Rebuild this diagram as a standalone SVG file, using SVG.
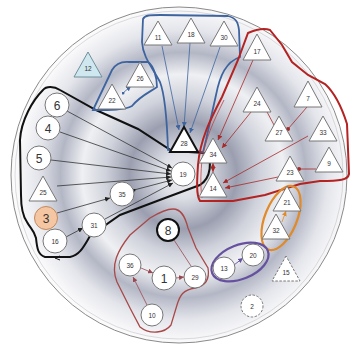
<svg xmlns="http://www.w3.org/2000/svg" width="353" height="349" viewBox="0 0 353 349">
<defs>
<radialGradient id="bg" cx="183" cy="175" r="168" gradientUnits="userSpaceOnUse">
<stop offset="0" stop-color="#f3f3f6"/>
<stop offset="0.14" stop-color="#dcdee5"/>
<stop offset="0.32" stop-color="#9a9eaf"/>
<stop offset="0.46" stop-color="#cfd2db"/>
<stop offset="0.6" stop-color="#eff0f3"/>
<stop offset="0.73" stop-color="#b3b7c5"/>
<stop offset="0.86" stop-color="#e4e5eb"/>
<stop offset="1" stop-color="#fbfbfc"/>
</radialGradient>
<marker id="aK" viewBox="0 0 6 6" refX="6" refY="3" markerWidth="5" markerHeight="5" markerUnits="userSpaceOnUse" orient="auto"><path d="M0,0 L6,3 L0,6 Z" fill="#222"/></marker>
<marker id="aB" viewBox="0 0 6 6" refX="6" refY="3" markerWidth="5" markerHeight="5" markerUnits="userSpaceOnUse" orient="auto"><path d="M0,0 L6,3 L0,6 Z" fill="#3e64a0"/></marker>
<marker id="aR" viewBox="0 0 6 6" refX="6" refY="3" markerWidth="5" markerHeight="5" markerUnits="userSpaceOnUse" orient="auto"><path d="M0,0 L6,3 L0,6 Z" fill="#a82828"/></marker>
<marker id="aM" viewBox="0 0 6 6" refX="6" refY="3" markerWidth="5" markerHeight="5" markerUnits="userSpaceOnUse" orient="auto"><path d="M0,0 L6,3 L0,6 Z" fill="#9a4850"/></marker>
<marker id="aO" viewBox="0 0 6 6" refX="6" refY="3" markerWidth="5" markerHeight="5" markerUnits="userSpaceOnUse" orient="auto"><path d="M0,0 L6,3 L0,6 Z" fill="#e08a2a"/></marker>
<marker id="aP" viewBox="0 0 6 6" refX="6" refY="3" markerWidth="5" markerHeight="5" markerUnits="userSpaceOnUse" orient="auto"><path d="M0,0 L6,3 L0,6 Z" fill="#6650a0"/></marker>
<marker id="dK" viewBox="0 0 4 4" refX="2" refY="2" markerWidth="3" markerHeight="3" markerUnits="userSpaceOnUse"><circle cx="2" cy="2" r="2" fill="#222"/></marker>
<marker id="dR" viewBox="0 0 4 4" refX="2" refY="2" markerWidth="4" markerHeight="4" markerUnits="userSpaceOnUse"><circle cx="2" cy="2" r="2" fill="#a82828"/></marker>
<marker id="dB" viewBox="0 0 4 4" refX="2" refY="2" markerWidth="3" markerHeight="3" markerUnits="userSpaceOnUse"><circle cx="2" cy="2" r="2" fill="#3e64a0"/></marker>
</defs>
<style>
.nd{fill:#fff;stroke:#777;stroke-width:1}
.t{font-family:"Liberation Sans",Arial,sans-serif;fill:#333;text-anchor:middle}
.s{font-size:6.5px}
.b{font-size:12px}
.ck{stroke:#333;stroke-width:0.8;fill:none}
.cb{stroke:#3e64a0;stroke-width:0.8;fill:none}
.cr{stroke:#a82828;stroke-width:0.8;fill:none}
.cm{stroke:#9a4850;stroke-width:0.8;fill:none}
.reg{fill:none}
</style>
<g id="background">
<circle cx="179" cy="175" r="168" fill="url(#bg)" stroke="#8a8a8a" stroke-width="1"/>
<circle cx="179" cy="175" r="164" fill="none" stroke="#c4c4c8" stroke-width="0.6"/>
</g>
<g id="regions">
<path class="reg" stroke="#111" stroke-width="2" d="M43,90 C46,86 54,86 60,90 L96,110 L138,129 L172,151 L205,153 C213,160 211,178 200,185 L165,198 L120,215 L90,236 C84,246 80,255 70,257 L45,257 C38,255 37,248 36,238 C34,230 30,228 27,222 C22,215 21,205 21,195 L20,140 C21,120 33,100 43,90 Z"/>
<path d="M60,256 L55,258 L60,260" fill="none" stroke="#111" stroke-width="1"/>
<path class="reg" stroke="#3e64a0" stroke-width="1.8" d="M93,110 L112,70 C116,63 122,61 130,62 L148,62 C154,66 157,78 157,87 C150,92 140,96 132,106 C125,110 110,110 93,110 Z"/>
<path class="reg" stroke="#3e64a0" stroke-width="1.8" d="M168,150 C167,120 165,95 160,82 C153,68 143,58 142,42 L143,19 C145,15 150,15 160,15 L228,16 C236,18 238,22 239,30 L240,57 C226,62 220,75 216,95 L206,140 L203,152 Z"/>
<path class="reg" stroke="#b42222" stroke-width="2" d="M248,33 C255,30 264,28 270,30 L282,45 L292,62 L308,75 L325,84 C336,94 342,108 347,124 L349,174 C348,180 340,181 320,181 L300,184 L265,195 L233,201 L200,201 C196,195 197,180 198,165 C200,140 210,120 222,97 L238,60 Z"/>
<path class="reg" stroke="#c04040" stroke-width="0.8" d="M202,198 C200,185 201,170 202,160 C205,140 213,122 224,100"/>
<ellipse cx="281" cy="218" rx="16" ry="34" transform="rotate(22 281 218)" fill="none" stroke="#e08a2a" stroke-width="2.2"/>
<ellipse cx="240" cy="262" rx="30" ry="17" transform="rotate(-22 240 262)" fill="none" stroke="#6650a0" stroke-width="2.2"/>
<path class="reg" stroke="#a84848" stroke-width="1.3" d="M173,209 C181,209 185,216 188,228 L196,248 L208,268 C210,280 205,286 195,288 C183,290 180,295 177,305 L171,325 C165,333 150,335 140,327 L130,308 L117,282 C110,265 118,250 130,235 L150,218 C160,212 167,209 173,209 Z"/>
</g>
<g id="connectors">
<path class="ck" d="M67,111 L172,168" marker-end="url(#aK)"/>
<path class="ck" d="M60,132 L171,171" marker-end="url(#aK)"/>
<path class="ck" d="M51,160 L171,174" marker-end="url(#aK)"/>
<path class="ck" d="M57,186 L171,177" marker-end="url(#aK)"/>
<path class="ck" d="M134,190 L172,180" marker-start="url(#dK)" marker-end="url(#aK)"/>
<path class="ck" d="M105,219 L173,183" marker-end="url(#aK)"/>
<path class="ck" d="M57,213 L110,198" marker-end="url(#aK)"/>
<path class="ck" d="M66,237 L83,228" marker-end="url(#aK)"/>
<path class="cb" d="M162,46 L179,130" marker-end="url(#aB)"/>
<path class="cb" d="M190,43 L184,127" marker-end="url(#aB)"/>
<path class="cb" d="M220,47 L190,133" marker-end="url(#aB)"/>
<path class="cb" d="M123,93 L131,86" marker-start="url(#dB)" marker-end="url(#aB)"/>
<path class="cr" d="M253,60 L218,140" marker-end="url(#aR)"/>
<path class="cr" d="M251,112 L222,148" marker-end="url(#aR)"/>
<path class="cr" d="M266,110 L274,125" marker-start="url(#dR)"/>
<path class="cr" d="M307,107 L288,129" marker-end="url(#dR)"/>
<path class="cr" d="M308,136 L223,183" marker-end="url(#aR)"/>
<path class="cr" d="M278,177 L225,188" marker-end="url(#aR)"/>
<path class="cr" d="M316,169 L299,169" marker-end="url(#dR)"/>
<path class="cr" d="M213,166 L213,172" marker-end="url(#aR)"/>
<path class="cr" d="M213,169 L213,163" marker-end="url(#aR)"/>
<path d="M282,222 L286,211" stroke="#e08a2a" stroke-width="0.8" fill="none" marker-end="url(#aO)"/>
<path d="M234,265 L243,258" stroke="#6650a0" stroke-width="0.9" fill="none" marker-end="url(#aP)"/>
<path class="cm" d="M141,268 L153,273" marker-end="url(#aM)"/>
<path class="cm" d="M147,305 L133,277" marker-end="url(#aM)"/>
<path class="cm" d="M174,240 L191,266"/>
<path class="cm" d="M176,278 L184,277" marker-end="url(#aM)"/>
</g>
<g id="n12"><polygon points="88,52 74,77 102,77" fill="#cfe7ef" stroke="#6f8f9a"/><text class="t s" x="88" y="71">12</text></g>
<g id="n26"><polygon class="nd" points="140,62 126,87 154,87"/><text class="t s" x="140" y="81">26</text></g>
<g id="n22"><polygon class="nd" points="112,84 98,109 126,109"/><text class="t s" x="112" y="103">22</text></g>
<g id="n11"><polygon class="nd" points="158,21 144,45 172,45"/><text class="t s" x="158" y="40">11</text></g>
<g id="n18"><polygon class="nd" points="191,18 177,43 205,43"/><text class="t s" x="191" y="37">18</text></g>
<g id="n30"><polygon class="nd" points="224,21 210,46 238,46"/><text class="t s" x="224" y="40">30</text></g>
<g id="n17"><polygon class="nd" points="257,34 243,60 271,60"/><text class="t s" x="257" y="54">17</text></g>
<g id="n24"><polygon class="nd" points="257,87 243,112 271,112"/><text class="t s" x="257" y="106">24</text></g>
<g id="n7"><polygon class="nd" points="308,81 294,107 322,107"/><text class="t s" x="308" y="101">7</text></g>
<g id="n27"><polygon class="nd" points="279,116 265,141 293,141"/><text class="t s" x="279" y="135">27</text></g>
<g id="n33"><polygon class="nd" points="323,116 309,141 337,141"/><text class="t s" x="323" y="135">33</text></g>
<g id="n28"><polygon points="184,127 170,152 198,152" fill="#fff" stroke="#111" stroke-width="2"/><text class="t s" x="184" y="146">28</text></g>
<g id="n34"><polygon class="nd" points="213,138 199,163 227,163"/><text class="t s" x="213" y="157">34</text></g>
<g id="n14"><polygon class="nd" points="213,172 199,197 227,197"/><text class="t s" x="213" y="191">14</text></g>
<g id="n23"><polygon class="nd" points="290,156 276,181 304,181"/><text class="t s" x="290" y="175">23</text></g>
<g id="n9"><polygon class="nd" points="329,147 315,172 343,172"/><text class="t s" x="329" y="166">9</text></g>
<g id="n21"><polygon class="nd" points="287,186 273,211 301,211"/><text class="t s" x="287" y="205">21</text></g>
<g id="n32"><polygon class="nd" points="276,214 262,239 290,239"/><text class="t s" x="276" y="233">32</text></g>
<g id="n15"><polygon class="nd" points="286,256 272,281 300,281" stroke-dasharray="2.5,1.5"/><text class="t s" x="286" y="275">15</text></g>
<g id="n25"><polygon class="nd" points="43,176 29,201 57,201"/><text class="t s" x="43" y="195">25</text></g>
<g id="n6"><circle class="nd" cx="57" cy="105" r="12"/><text class="t b" x="57" y="109.5">6</text></g>
<g id="n4"><circle class="nd" cx="48" cy="128" r="12"/><text class="t b" x="48" y="132.5">4</text></g>
<g id="n5"><circle class="nd" cx="39" cy="158" r="12"/><text class="t b" x="39" y="162.5">5</text></g>
<g id="n3"><circle cx="46" cy="218" r="11.5" fill="#f5c6a2" stroke="#c08a60"/><text class="t b" x="46" y="222.5">3</text></g>
<g id="n16"><circle class="nd" cx="55" cy="241" r="12"/><text class="t s" x="55" y="243.5">16</text></g>
<g id="n31"><circle class="nd" cx="94" cy="225" r="12"/><text class="t s" x="94" y="227.5">31</text></g>
<g id="n35"><circle class="nd" cx="122" cy="194" r="12"/><text class="t s" x="122" y="196.5">35</text></g>
<g id="n19"><circle class="nd" cx="183" cy="174" r="12"/><text class="t s" x="183" y="176.5">19</text></g>
<g id="n8"><circle cx="168" cy="230" r="11" fill="#fff" stroke="#111" stroke-width="2"/><text class="t b" x="168" y="234.5">8</text></g>
<g id="n36"><circle class="nd" cx="130" cy="265" r="11"/><text class="t s" x="130" y="267.5">36</text></g>
<g id="n1"><circle class="nd" cx="164" cy="278" r="12"/><text class="t b" x="164" y="282.5">1</text></g>
<g id="n10"><circle class="nd" cx="152" cy="315" r="11"/><text class="t s" x="152" y="317.5">10</text></g>
<g id="n29"><circle class="nd" cx="195" cy="277" r="11"/><text class="t s" x="195" y="279.5">29</text></g>
<g id="n13"><circle class="nd" cx="224" cy="268" r="11"/><text class="t s" x="224" y="270.5">13</text></g>
<g id="n20"><circle class="nd" cx="253" cy="255" r="11"/><text class="t s" x="253" y="257.5">20</text></g>
<g id="n2"><circle class="nd" cx="252" cy="306" r="11" stroke-dasharray="2.5,1.5"/><text class="t s" x="252" y="308.5">2</text></g>
</svg>
